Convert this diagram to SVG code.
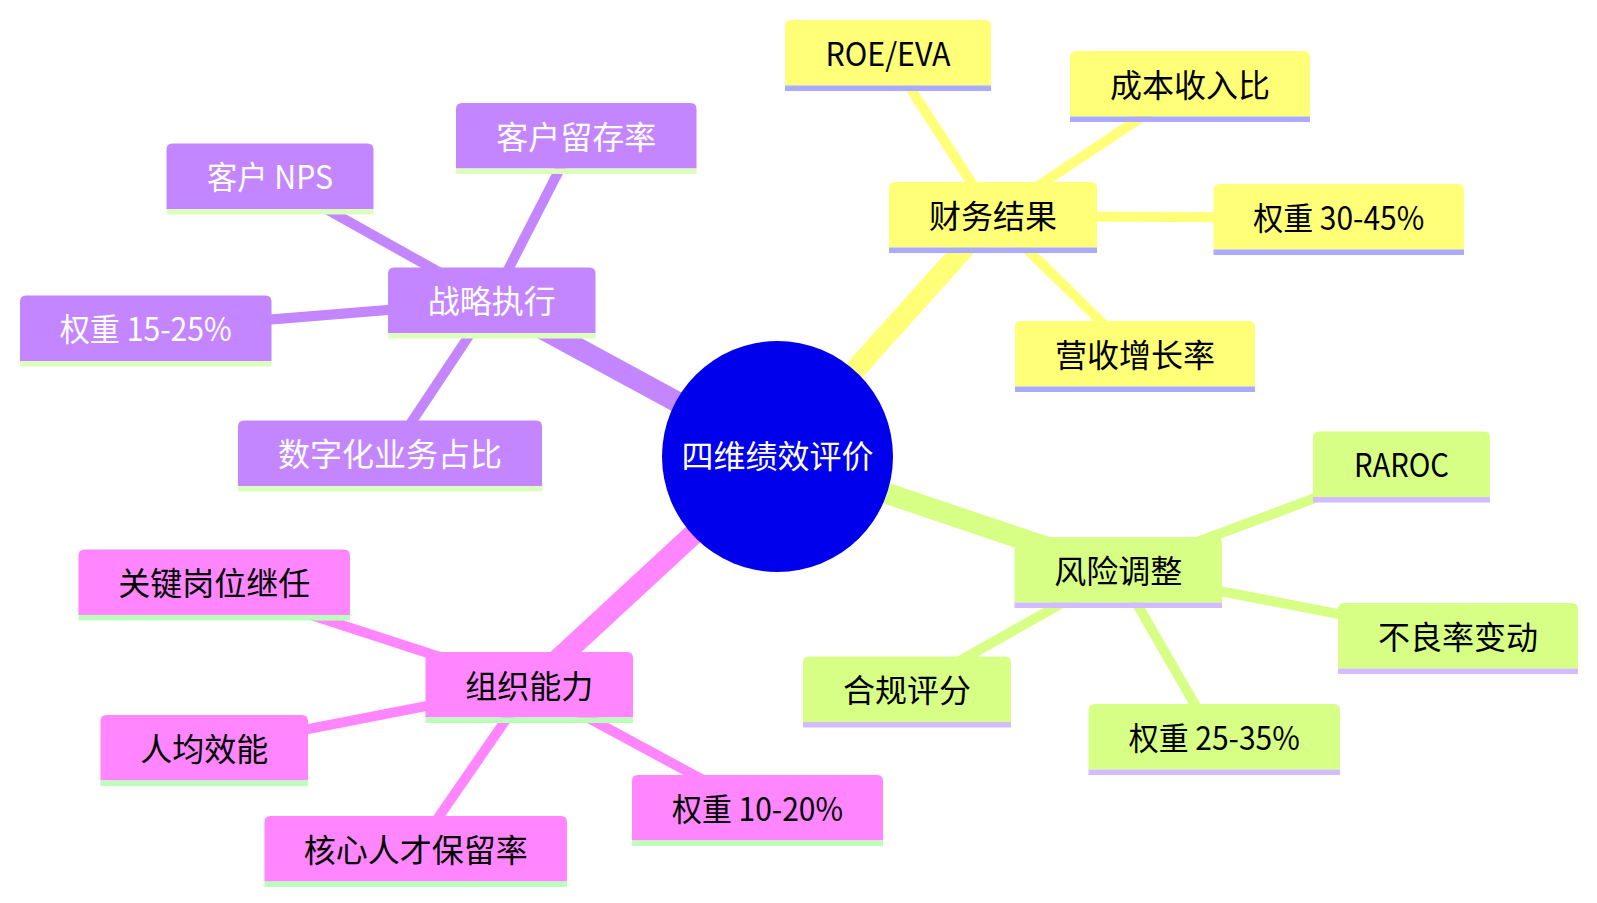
<svg xmlns="http://www.w3.org/2000/svg" width="1597" height="903" viewBox="0 0 1597 903">
<style>
text{font-family:"Noto Sans CJK SC","Noto Sans",sans-serif;font-size:32px;text-anchor:middle}
.e0{stroke-width:21;fill:none;stroke-linecap:butt}
.e1{stroke-width:10;fill:none;stroke-linecap:butt}
.s0{fill:#ffff78}.s0 text{fill:#000}.s0 .bar{fill:#aaaaff}
.s1{fill:#c386ff}.s1 text{fill:#fff}.s1 .bar{fill:#ddffbe}
.s2{fill:#d7ff86}.s2 text{fill:#000}.s2 .bar{fill:#d2bbff}
.s3{fill:#ff86ff}.s3 text{fill:#000}.s3 .bar{fill:#bbffbb}
.c0{stroke:#ffff78}.c1{stroke:#c386ff}.c2{stroke:#d7ff86}.c3{stroke:#ff86ff}
</style>
<rect width="1597" height="903" fill="#ffffff"/>
<g id="connectors">
<line class="e0 c0" x1="777.5" y1="456.5" x2="993" y2="216"/>
<line class="e0 c1" x1="777.5" y1="456.5" x2="491.75" y2="301.5"/>
<line class="e0 c2" x1="777.5" y1="456.5" x2="1118.25" y2="571.4"/>
<line class="e0 c3" x1="777.5" y1="456.5" x2="529.2" y2="686"/>
<line class="e1 c0" x1="993" y1="216" x2="888" y2="54"/>
<line class="e1 c0" x1="993" y1="216" x2="1190" y2="85"/>
<line class="e1 c0" x1="993" y1="216" x2="1338.75" y2="218"/>
<line class="e1 c0" x1="993" y1="216" x2="1135" y2="355"/>
<line class="e1 c1" x1="491.75" y1="301.5" x2="576.25" y2="137"/>
<line class="e1 c1" x1="491.75" y1="301.5" x2="270" y2="177.7"/>
<line class="e1 c1" x1="491.75" y1="301.5" x2="145.75" y2="329.7"/>
<line class="e1 c1" x1="491.75" y1="301.5" x2="389.8" y2="454.7"/>
<line class="e1 c3" x1="529.2" y1="686" x2="214.25" y2="583.7"/>
<line class="e1 c3" x1="529.2" y1="686" x2="204.35" y2="749.4"/>
<line class="e1 c3" x1="529.2" y1="686" x2="415.9" y2="850"/>
<line class="e1 c3" x1="529.2" y1="686" x2="757.6" y2="809.4"/>
<line class="e1 c2" x1="1118.25" y1="571.4" x2="1401.65" y2="465.7"/>
<line class="e1 c2" x1="1118.25" y1="571.4" x2="1458.15" y2="637.2"/>
<line class="e1 c2" x1="1118.25" y1="571.4" x2="906.9" y2="690.7"/>
<line class="e1 c2" x1="1118.25" y1="571.4" x2="1214.35" y2="738.2"/>
</g>
<g id="root">
<circle cx="777.5" cy="456.5" r="115.5" fill="#0000ec"/>
<text x="777.5" y="468" fill="#ffffff">四维绩效评价</text>
</g>
<g id="n-finance" class="s0"><path d="M889 247.5V188Q889 182 895 182H1091Q1097 182 1097 188V247.5Z"/><rect class="bar" x="889" y="247.5" width="208" height="5.5"/><text x="993" y="227.5">财务结果</text></g>
<g id="n-roe" class="s0"><path d="M785 85.5V26Q785 20 791 20H985Q991 20 991 26V85.5Z"/><rect class="bar" x="785" y="85.5" width="206" height="5.5"/><text x="888" y="65.5" textLength="125" lengthAdjust="spacingAndGlyphs">ROE/EVA</text></g>
<g id="n-cost" class="s0"><path d="M1070 116.5V57Q1070 51 1076 51H1304Q1310 51 1310 57V116.5Z"/><rect class="bar" x="1070" y="116.5" width="240" height="5.5"/><text x="1190" y="96.5">成本收入比</text></g>
<g id="n-w1" class="s0"><path d="M1213.5 249.5V190Q1213.5 184 1219.5 184H1458Q1464 184 1464 190V249.5Z"/><rect class="bar" x="1213.5" y="249.5" width="250.5" height="5.5"/><text x="1338.75" y="229.5" textLength="171" lengthAdjust="spacingAndGlyphs">权重 30-45%</text></g>
<g id="n-rev" class="s0"><path d="M1015 386.5V327Q1015 321 1021 321H1249Q1255 321 1255 327V386.5Z"/><rect class="bar" x="1015" y="386.5" width="240" height="5.5"/><text x="1135" y="366.5">营收增长率</text></g>
<g id="n-strategy" class="s1"><path d="M388 333V273.5Q388 267.5 394 267.5H589.5Q595.5 267.5 595.5 273.5V333Z"/><rect class="bar" x="388" y="333" width="207.5" height="5.5"/><text x="491.75" y="313">战略执行</text></g>
<g id="n-retain" class="s1"><path d="M456 168.5V109Q456 103 462 103H690.5Q696.5 103 696.5 109V168.5Z"/><rect class="bar" x="456" y="168.5" width="240.5" height="5.5"/><text x="576.25" y="148.5">客户留存率</text></g>
<g id="n-nps" class="s1"><path d="M166.5 209V149.5Q166.5 143.5 172.5 143.5H367.5Q373.5 143.5 373.5 149.5V209Z"/><rect class="bar" x="166.5" y="209" width="207" height="5.5"/><text x="270" y="189" textLength="126" lengthAdjust="spacingAndGlyphs">客户 NPS</text></g>
<g id="n-w2" class="s1"><path d="M20 361V301.5Q20 295.5 26 295.5H265.5Q271.5 295.5 271.5 301.5V361Z"/><rect class="bar" x="20" y="361" width="251.5" height="5.5"/><text x="145.75" y="341" textLength="172" lengthAdjust="spacingAndGlyphs">权重 15-25%</text></g>
<g id="n-digital" class="s1"><path d="M238 486V426.5Q238 420.5 244 420.5H536Q542 420.5 542 426.5V486Z"/><rect class="bar" x="238" y="486" width="304" height="5.5"/><text x="390" y="466">数字化业务占比</text></g>
<g id="n-org" class="s3"><path d="M425.5 717.5V658Q425.5 652 431.5 652H627Q633 652 633 658V717.5Z"/><rect class="bar" x="425.5" y="717.5" width="207.5" height="5.5"/><text x="529.25" y="697.5">组织能力</text></g>
<g id="n-succ" class="s3"><path d="M78.5 615V555.5Q78.5 549.5 84.5 549.5H344Q350 549.5 350 555.5V615Z"/><rect class="bar" x="78.5" y="615" width="271.5" height="5.5"/><text x="214.25" y="595">关键岗位继任</text></g>
<g id="n-eff" class="s3"><path d="M100.5 780.5V721Q100.5 715 106.5 715H302Q308 715 308 721V780.5Z"/><rect class="bar" x="100.5" y="780.5" width="207.5" height="5.5"/><text x="204.25" y="760.5">人均效能</text></g>
<g id="n-talent" class="s3"><path d="M264.5 881.5V822Q264.5 816 270.5 816H561Q567 816 567 822V881.5Z"/><rect class="bar" x="264.5" y="881.5" width="302.5" height="5.5"/><text x="415.75" y="861.5">核心人才保留率</text></g>
<g id="n-w4" class="s3"><path d="M632 840.5V781Q632 775 638 775H877Q883 775 883 781V840.5Z"/><rect class="bar" x="632" y="840.5" width="251" height="5.5"/><text x="757.5" y="820.5" textLength="171" lengthAdjust="spacingAndGlyphs">权重 10-20%</text></g>
<g id="n-risk" class="s2"><path d="M1014.5 602.5V543Q1014.5 537 1020.5 537H1216Q1222 537 1222 543V602.5Z"/><rect class="bar" x="1014.5" y="602.5" width="207.5" height="5.5"/><text x="1118.25" y="582.5">风险调整</text></g>
<g id="n-raroc" class="s2"><path d="M1313 497V437.5Q1313 431.5 1319 431.5H1484Q1490 431.5 1490 437.5V497Z"/><rect class="bar" x="1313" y="497" width="177" height="5.5"/><text x="1401.5" y="477" textLength="95" lengthAdjust="spacingAndGlyphs">RAROC</text></g>
<g id="n-npl" class="s2"><path d="M1338 668.5V609Q1338 603 1344 603H1572Q1578 603 1578 609V668.5Z"/><rect class="bar" x="1338" y="668.5" width="240" height="5.5"/><text x="1458" y="648.5">不良率变动</text></g>
<g id="n-comp" class="s2"><path d="M803 722V662.5Q803 656.5 809 656.5H1005Q1011 656.5 1011 662.5V722Z"/><rect class="bar" x="803" y="722" width="208" height="5.5"/><text x="907" y="702">合规评分</text></g>
<g id="n-w3" class="s2"><path d="M1088.5 769.5V710Q1088.5 704 1094.5 704H1334Q1340 704 1340 710V769.5Z"/><rect class="bar" x="1088.5" y="769.5" width="251.5" height="5.5"/><text x="1214.25" y="749.5" textLength="171" lengthAdjust="spacingAndGlyphs">权重 25-35%</text></g>
</svg>
